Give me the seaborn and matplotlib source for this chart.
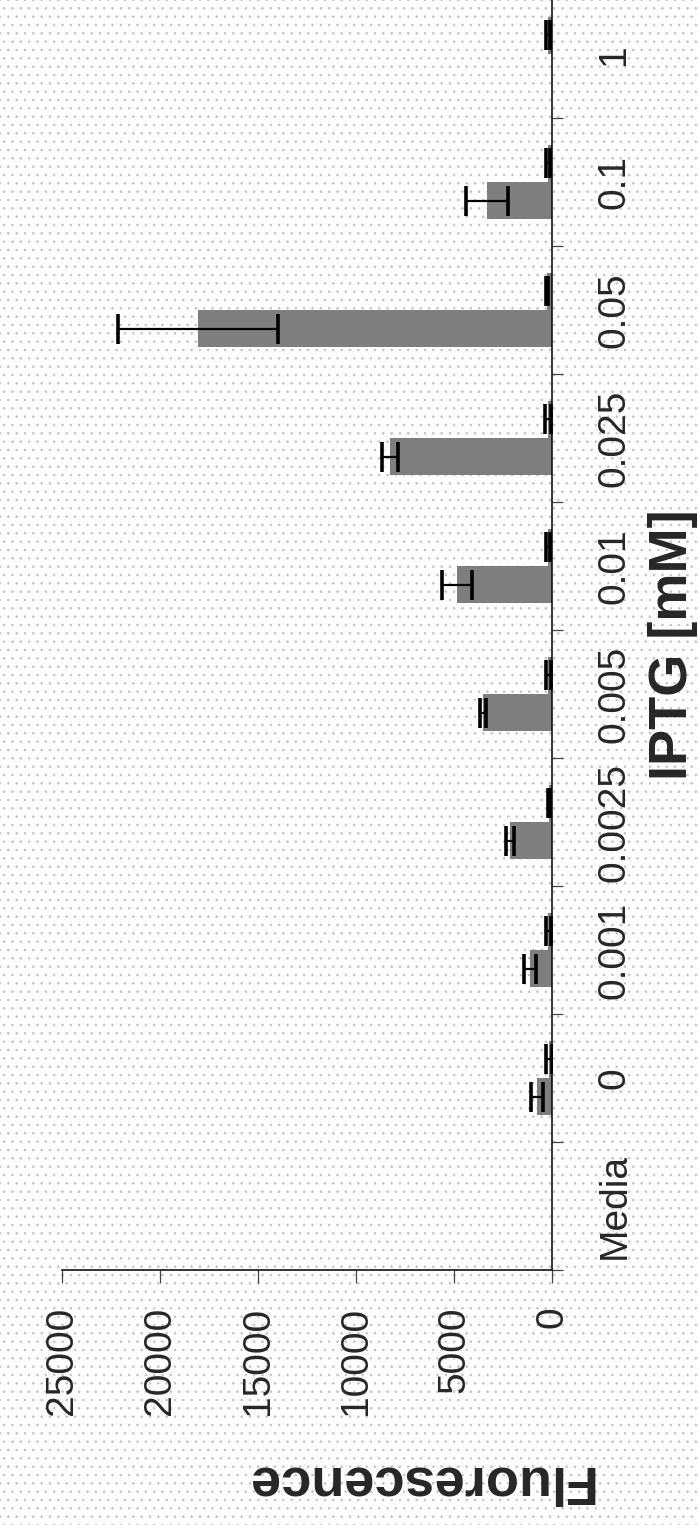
import matplotlib
matplotlib.use("Agg")
import matplotlib.pyplot as plt
from matplotlib.patches import Rectangle
import seaborn as sns
import pandas as pd
import numpy as np

# ---------------- data ----------------
categories = ["Media", "0", "0.001", "0.0025", "0.005", "0.01", "0.025", "0.05", "0.1", "1"]
series_names = ["Series 1", "Series 2"]
series1_values = [0, 770, 1120, 2150, 3520, 4850, 8270, 18060, 3320, 0]
series1_errors = [0, 300, 300, 200, 150, 770, 420, 4100, 1050, 0]
series2_values = [0, 150, 180, 150, 180, 200, 200, 250, 200, 220]
series2_errors = [0, 150, 120, 50, 120, 120, 150, 50, 100, 100]
value_ticks = [0, 5000, 10000, 15000, 20000, 25000]
x_title = "Fluorescence"
y_title = "IPTG [mM]"

# ---------------- style ----------------
sns.set_style("white")
plt.rcParams["font.family"] = ["Liberation Sans", "DejaVu Sans"]
plt.rcParams["hatch.linewidth"] = 0.6
plt.rcParams["hatch.color"] = "#c2c2c2"

df = pd.DataFrame({
    "category": categories * 2,
    "value": series1_values + series2_values,
    "series": [series_names[0]] * len(categories) + [series_names[1]] * len(categories),
})

W, H = 698, 1525
fig = plt.figure(figsize=(W / 100, H / 100), dpi=100, facecolor="white")
# halftone-like dotted page background
fig.patches.append(Rectangle((0, 0), 1, 1, transform=fig.transFigure, facecolor="white",
                             edgecolor="#c2c2c2", hatch="..", lw=0, zorder=-10))

ax_left, ax_right = 62, 552
ax_bottom, ax_top = 1270, -10
ax = fig.add_axes([ax_left / W, (H - ax_bottom) / H,
                   (ax_right - ax_left) / W, (ax_bottom - ax_top) / H])
ax.set_facecolor("none")

bar_gray = "#7e7e7e"
sns.barplot(data=df, y="category", x="value", hue="series", order=categories,
            hue_order=series_names, orient="h", palette=[bar_gray, bar_gray],
            saturation=1, width=0.58, errorbar=None, legend=False, ax=ax,
            linewidth=0)

# error bars from the bars' own positions
for container, errs in zip(ax.containers, [series1_errors, series2_errors]):
    for bar, err in zip(container, errs):
        if err <= 0:
            continue
        yc = bar.get_y() + bar.get_height() / 2
        xv = bar.get_x() + bar.get_width()
        ax.errorbar(xv, yc, xerr=err, fmt="none", ecolor="black", elinewidth=1.6,
                    capsize=11, capthick=2.6, zorder=5)

ax.set_xlim(25000, 0)
ax.set_ylim(-0.5, len(categories) - 0.5)

# value axis (bottom)
ax.set_xticks(value_ticks)
ax.set_xticklabels([str(v) for v in value_ticks], rotation=90, fontsize=28)
ax.tick_params(axis="x", which="major", direction="out", length=9.4, width=0.9,
               color="#444444", pad=17, bottom=True, top=False)
for lab in ax.get_xticklabels():
    lab.set_ha("center")
    lab.set_va("top")

# category axis (right)
ax.yaxis.tick_right()
ax.set_yticks(range(len(categories)))
ax.set_yticklabels(categories, rotation=90, fontsize=28)
ax.set_yticks(np.arange(-0.5, len(categories) - 1, 1.0), minor=True)
ax.tick_params(axis="y", which="major", length=0, pad=32, right=True, left=False)
ax.tick_params(axis="y", which="minor", direction="out", length=8, width=0.9,
               color="#444444", right=True, left=False)
for lab in ax.get_yticklabels():
    lab.set_ha("left")
    lab.set_va("center")

# spines
for s in ["left", "top"]:
    ax.spines[s].set_visible(False)
for s in ["right", "bottom"]:
    ax.spines[s].set_visible(True)
    ax.spines[s].set_color("black")
    ax.spines[s].set_linewidth(1.1)
    ax.spines[s].set_linestyle((0, (1.5, 1)))

# axis titles
ax.set_xlabel(x_title, fontsize=39, fontweight="bold", rotation=180)
ax.xaxis.set_label_coords((418 - ax_left) / (ax_right - ax_left),
                          (ax_bottom - 1480) / (ax_bottom - ax_top))
ax.xaxis.label.set_va("center")
ax.xaxis.label.set_ha("center")

ax.yaxis.set_label_position("right")
ax.set_ylabel(y_title, fontsize=39, fontweight="bold", rotation=90)
ax.yaxis.set_label_coords((673 - ax_left) / (ax_right - ax_left),
                          (ax_bottom - 645) / (ax_bottom - ax_top))
ax.yaxis.label.set_va("center")
ax.yaxis.label.set_ha("center")

fig.savefig("out.png", dpi=100, facecolor="white")
